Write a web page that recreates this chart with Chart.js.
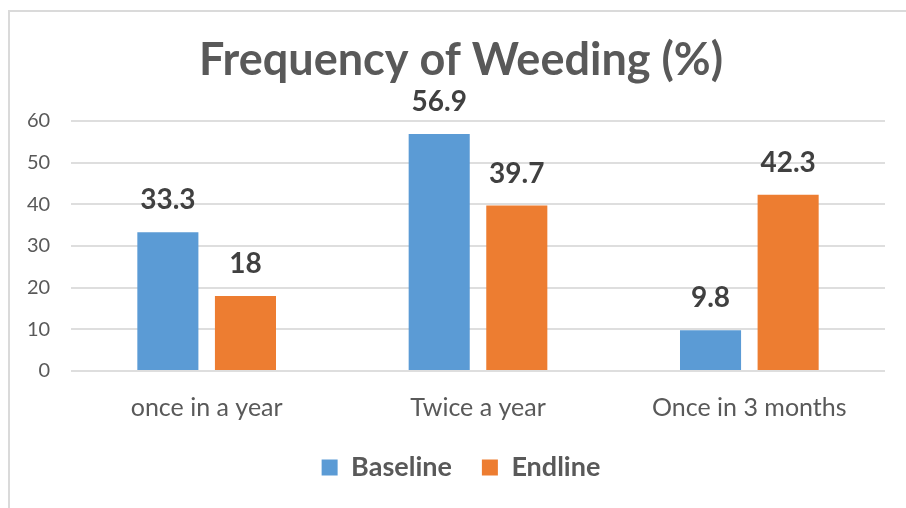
<!DOCTYPE html>
<html>
<head>
<meta charset="utf-8">
<script src="https://cdn.jsdelivr.net/npm/chart.js@4"></script>
<style>
  html,body{margin:0;padding:0;background:#fff;overflow:hidden}
  #frame{position:absolute;left:0;top:0;width:906px;height:508px;overflow:hidden}
  #edge{position:absolute;left:8px;top:10px;width:1200px;height:1200px;border:2px solid #dadada;box-sizing:border-box}
  #chart{position:absolute;left:0;top:0}
</style>
</head>
<body>
<div id="frame">
  <div id="edge"></div>
  <canvas id="chart" width="906" height="508"></canvas>
</div>
<script>
  // weeding frequency survey, share of households (%)
  const categories = ['once in a year', 'Twice a year', 'Once in 3 months'];
  const baseline   = [33.3, 56.9, 9.8];
  const endline    = [18, 39.7, 42.3];
  const yTicks     = [0, 10, 20, 30, 40, 50, 60];

  const FONT = 'Lato, "Open Sans", sans-serif';
  const BLUE = '#5b9bd5', ORANGE = '#ed7d31';

  /* value labels above each bar, placed from the bar element itself */
  const barValues = {
    id: 'barValues',
    afterDatasetsDraw(chart) {
      const ctx = chart.ctx;
      ctx.save();
      ctx.font = 'bold 28px ' + FONT;
      ctx.fillStyle = '#404040';
      ctx.textAlign = 'center';
      ctx.textBaseline = 'alphabetic';
      chart.data.datasets.forEach((ds, i) => {
        chart.getDatasetMeta(i).data.forEach((bar, j) => {
          ctx.fillText(String(ds.data[j]), bar.x, bar.y - 23);
        });
      });
      ctx.restore();
    }
  };

  new Chart(document.getElementById('chart'), {
    type: 'bar',
    data: {
      labels: categories,
      datasets: [
        {label: 'Baseline', data: baseline, backgroundColor: BLUE},
        {label: 'Endline',  data: endline,  backgroundColor: ORANGE}
      ]
    },
    options: {
      responsive: false,
      animation: false,
      layout: {padding: {top: 14, left: 37, right: 21, bottom: 17}},
      datasets: {bar: {categoryPercentage: 0.572, barPercentage: 0.787}},
      plugins: {
        title: {
          display: true,
          text: 'Frequency of Weeding (%)',
          color: '#595959',
          font: {family: FONT, size: 45, weight: 'bold'},
          padding: {top: 19, bottom: 34}
        },
        legend: {
          position: 'bottom',
          labels: {
            color: '#595959',
            font: {family: FONT, size: 27, weight: 'bold'},
            boxWidth: 16, boxHeight: 16, padding: 30
          }
        },
        tooltip: {enabled: false}
      },
      scales: {
        x: {
          grid: {display: false},
          border: {display: false},
          ticks: {color: '#595959', font: {family: FONT, size: 25}, padding: 14},
          afterFit(s) { s.height = 53; }
        },
        y: {
          min: 0, max: 60,
          afterBuildTicks(s) { s.ticks = yTicks.map(v => ({value: v})); },
          afterFit(s) { s.width = 34; },
          border: {display: false},
          grid: {color: '#dedede', lineWidth: 2, drawTicks: false},
          // mirrored + far-aligned so the labels sit right-aligned left of the plot
          ticks: {color: '#595959', font: {family: FONT, size: 20}, mirror: true, crossAlign: 'far', padding: -44}
        }
      }
    },
    plugins: [barValues]
  });
</script>
</body>
</html>
